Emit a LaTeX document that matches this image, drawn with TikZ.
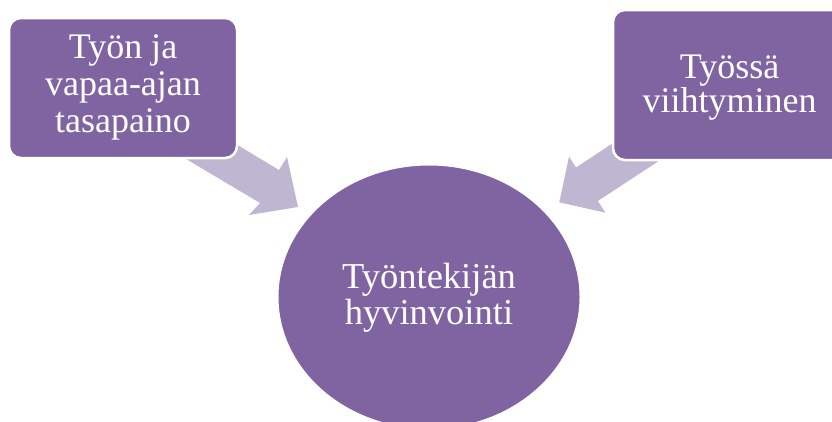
\documentclass[tikz,border=0pt]{standalone}
\usepackage{fontspec}
\setmainfont{Liberation Serif}
\usetikzlibrary{shapes.geometric}
\definecolor{boxpurple}{RGB}{128,100,162}
\definecolor{arrowlilac}{RGB}{191,183,209}
\tikzset{
  box/.style={rounded corners=12pt, fill=boxpurple, draw=white, line width=2.5pt,
    text=white, align=center, inner sep=0pt,
    font=\fontsize{36}{37}\selectfont},
  boxtext/.style={text=white, align=center, inner sep=0pt,
    font=\fontsize{36}{37}\selectfont},
  hub/.style={ellipse, fill=boxpurple, draw=white, line width=1pt, text=white,
    align=center, inner sep=0pt, font=\fontsize{36.5}{37}\selectfont},
  blockarrow/.style={fill=arrowlilac, draw=none}
}
\begin{document}
\begin{tikzpicture}[x=1pt,y=-1pt]
\useasboundingbox (0,0) rectangle (832,421);
\clip (0,0) rectangle (832,421);
% centre
\node[hub, minimum width=302pt, minimum height=264pt] (C) at (429,297) {};
\node[boxtext, font=\fontsize{36.5}{36}\selectfont] (CT) at (429,298) {Työntekijän\\hyvinvointi};
% block arrows
\fill[blockarrow] (196,120) -- (279,170) -- (287,157) -- (298,207) -- (249,215) -- (260,203) -- (176,153) -- cycle;
\fill[blockarrow] (651,118) -- (576,167.5) -- (569,156.6) -- (559.3,202.3) -- (605.5,212.7) -- (597.8,201) -- (673,151.7) -- cycle;
% boxes
\node[box, minimum width=228pt, minimum height=140pt] (L) at (123,88) {};
\node[boxtext] (LT) at (123,87) {Työn ja\\vapaa-ajan\\tasapaino};
\node[box, minimum width=233pt, minimum height=150pt] (R) at (729.5,85) {};
\node[boxtext, font=\fontsize{36}{34}\selectfont] (RT) at (729.5,88) {Työssä\\viihtyminen};
\end{tikzpicture}
\end{document}
